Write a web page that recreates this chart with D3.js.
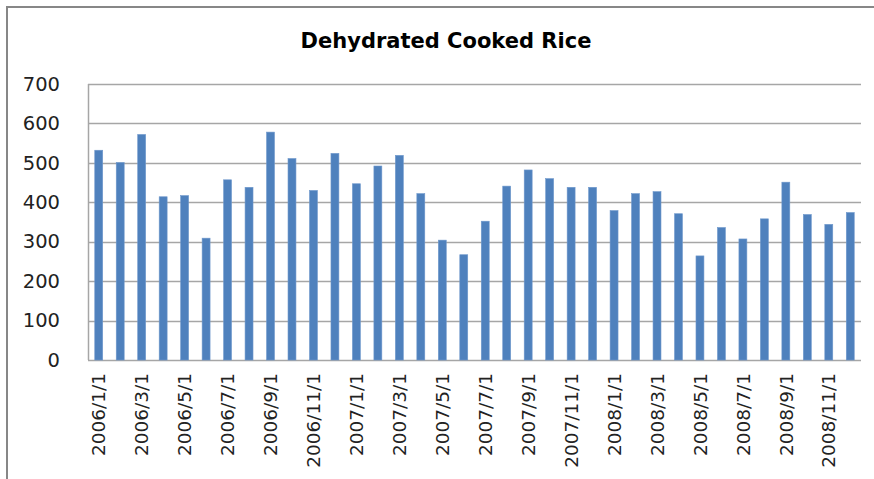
<!DOCTYPE html>
<html>
<head>
<meta charset="utf-8">
<script src="https://cdn.jsdelivr.net/npm/d3@7"></script>
<style>
  body { margin: 0; background: #fff; }
  svg { display: block; }
</style>
</head>
<body>
<div id="container"></div>
<script>
const months = [
    "2006/1/1", "2006/2/1", "2006/3/1", "2006/4/1", "2006/5/1", "2006/6/1",
    "2006/7/1", "2006/8/1", "2006/9/1", "2006/10/1", "2006/11/1", "2006/12/1",
    "2007/1/1", "2007/2/1", "2007/3/1", "2007/4/1", "2007/5/1", "2007/6/1",
    "2007/7/1", "2007/8/1", "2007/9/1", "2007/10/1", "2007/11/1", "2007/12/1",
    "2008/1/1", "2008/2/1", "2008/3/1", "2008/4/1", "2008/5/1", "2008/6/1",
    "2008/7/1", "2008/8/1", "2008/9/1", "2008/10/1", "2008/11/1", "2008/12/1"
];
const values = [
    532, 501, 572, 414, 417, 309, 457, 438, 578, 511, 430, 524,
    447, 492, 519, 422, 304, 267, 352, 441, 482, 460, 438, 438,
    379, 422, 427, 371, 264, 336, 307, 358, 451, 369, 344, 374
];
const yTicks = [0, 100, 200, 300, 400, 500, 600, 700];
const title = "Dehydrated Cooked Rice";

const W = 874, H = 479;
const margin = { top: 84, right: 13, bottom: 119, left: 88 };
const width = W - margin.left - margin.right;
const height = H - margin.top - margin.bottom;

const svg = d3.select("#container").append("svg")
    .attr("width", W)
    .attr("height", H);

// outer chart border (only top and left visible in the crop)
svg.append("path")
    .attr("d", `M7,${H} L7,7 L${W},7`)
    .attr("fill", "none")
    .attr("stroke", "#878787")
    .attr("stroke-width", 2);

svg.append("text")
    .attr("x", 446)
    .attr("y", 48)
    .attr("text-anchor", "middle")
    .style("font-family", "'DejaVu Sans', sans-serif")
    .style("font-weight", "bold")
    .style("font-size", "21px")
    .text(title);

const g = svg.append("g")
    .attr("transform", `translate(${margin.left},${margin.top})`);

const x = d3.scaleBand()
    .domain(months)
    .range([0, width])
    .paddingInner(0.63)
    .paddingOuter(0.315);

const y = d3.scaleLinear()
    .domain([0, 700])
    .range([height, 0]);

// gridlines
g.append("g")
    .selectAll("line")
    .data(yTicks)
    .enter().append("line")
    .attr("x1", 0)
    .attr("x2", width)
    .attr("y1", d => Math.round(y(d)) + 0.5)
    .attr("y2", d => Math.round(y(d)) + 0.5)
    .attr("stroke", "#a6a6a6")
    .attr("stroke-width", 1.5);

// left axis line
g.append("line")
    .attr("x1", 0.5).attr("x2", 0.5)
    .attr("y1", y(700)).attr("y2", height)
    .attr("stroke", "#a6a6a6")
    .attr("stroke-width", 1.5);

const yAxis = g.append("g")
    .call(d3.axisLeft(y).tickValues(yTicks).tickSize(0).tickPadding(28));
yAxis.select(".domain").remove();
yAxis.selectAll("text")
    .style("font-family", "'DejaVu Sans', sans-serif")
    .style("font-size", "19.5px")
    .attr("fill", "#222");

g.selectAll(".bar")
    .data(values)
    .enter().append("rect")
    .attr("class", "bar")
    .attr("x", (d, i) => x(months[i]))
    .attr("width", x.bandwidth())
    .attr("y", d => y(d))
    .attr("height", d => height - y(d))
    .attr("fill", "#4f81bd")
    .attr("stroke", "#6f98cc")
    .attr("stroke-width", 0.6);

const xAxis = g.append("g")
    .attr("transform", `translate(0,${height})`)
    .call(d3.axisBottom(x).tickValues(months.filter((m, i) => i % 2 === 0)).tickSize(0));
xAxis.select(".domain").remove();
xAxis.selectAll("text")
    .style("font-family", "'DejaVu Sans', sans-serif")
    .style("font-size", "18.5px")
    .attr("fill", "#222")
    .attr("transform", "rotate(-90)")
    .attr("x", -13)
    .attr("dy", "0.36em")
    .attr("y", 0)
    .style("text-anchor", "end");
</script>
</body>
</html>
